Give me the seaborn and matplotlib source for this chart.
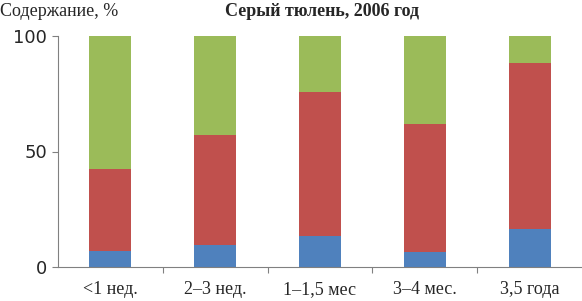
import matplotlib
matplotlib.use("Agg")
import matplotlib.pyplot as plt
import seaborn as sns
import numpy as np
import pandas as pd
from matplotlib.ticker import FixedLocator

categories = ["<1 нед.", "2–3 нед.", "1–1,5 мес", "3–4 мес.", "3,5 года"]
blue_vals = [7.0, 9.5, 13.5, 6.6, 16.5]
red_vals = [35.4, 47.5, 62.4, 55.4, 71.9]
green_vals = [57.6, 43.0, 24.1, 38.0, 11.6]
yticks = [0, 50, 100]

c_blue = "#4F81BD"
c_red = "#C0504D"
c_green = "#9BBB59"

sns.set_style("white")
plt.rcParams['font.family'] = ['Liberation Serif', 'DejaVu Serif']

df = pd.DataFrame({"cat": categories, "blue": blue_vals, "red": red_vals, "green": green_vals})
df["c1"] = df["blue"]
df["c2"] = df["blue"] + df["red"]
df["c3"] = df["c2"] + df["green"]

fig = plt.figure(figsize=(5.82, 3.01), dpi=100)
ax = fig.add_axes([58/582, 1-267/301, 1-58/582, (267-36)/301])

sns.barplot(data=df, x="cat", y="c3", color=c_green, width=0.4, ax=ax, saturation=1)
sns.barplot(data=df, x="cat", y="c2", color=c_red, width=0.4, ax=ax, saturation=1)
sns.barplot(data=df, x="cat", y="c1", color=c_blue, width=0.4, ax=ax, saturation=1)
for p in ax.patches:
    p.set_linewidth(0)

ax.set_xlim(-0.5, len(categories) - 0.5)
ax.set_ylim(0, 100)
ax.set_xlabel("")
ax.set_ylabel("")
ax.set_yticks(yticks)
ax.set_yticklabels([str(v) for v in yticks], fontsize=13, family=['DejaVu Sans'])
ax.tick_params(axis='y', length=4, width=0.8, color="#808080", pad=4, direction='out', left=True)
ax.set_xticks(range(len(categories)))
ax.set_xticklabels(categories, fontsize=13)
ax.tick_params(axis='x', which='major', length=0, pad=10)
ax.xaxis.set_minor_locator(FixedLocator(np.arange(0.5, len(categories) - 0.5, 1.0)))
ax.tick_params(axis='x', which='minor', length=4, width=0.8, color="#808080", direction='out', bottom=True)

for s in ["top", "right"]:
    ax.spines[s].set_visible(False)
for s in ["left", "bottom"]:
    ax.spines[s].set_color("#808080")
    ax.spines[s].set_linewidth(0.8)

fig.text(0.0, 0.963, "Содержание, %", fontsize=13, ha="left", va="center")
fig.text(322/582, 0.963, "Серый тюлень, 2006 год", fontsize=13, ha="center", va="center", fontweight="bold")

fig.savefig("out.png", dpi=100)
